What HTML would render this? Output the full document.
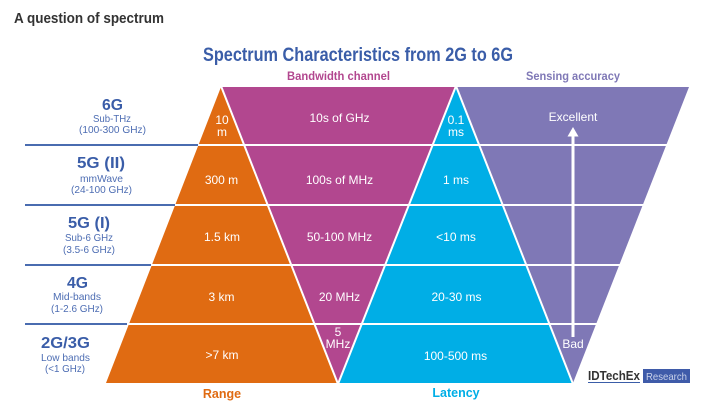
<!DOCTYPE html>
<html><head><meta charset="utf-8"><style>
html,body{margin:0;padding:0;background:#fff;width:702px;height:409px;overflow:hidden}
svg{display:block}
text{font-family:"Liberation Sans",sans-serif}
</style></head><body>
<svg width="702" height="409" viewBox="0 0 702 409" xmlns="http://www.w3.org/2000/svg">
<rect width="702" height="409" fill="#fff"/>
<text x="14" y="23" font-size="14.5" font-weight="bold" fill="#333" textLength="150" lengthAdjust="spacingAndGlyphs">A question of spectrum</text>
<text x="203" y="61" font-size="19" font-weight="bold" fill="#3a5da8" textLength="310" lengthAdjust="spacingAndGlyphs">Spectrum Characteristics from 2G to 6G</text>
<text x="287" y="80" font-size="12" font-weight="bold" fill="#b2478f" textLength="103" lengthAdjust="spacingAndGlyphs">Bandwidth channel</text>
<text x="526" y="80" font-size="12" font-weight="bold" fill="#7f78b6" textLength="94" lengthAdjust="spacingAndGlyphs">Sensing accuracy</text>

<!-- shapes -->
<polygon points="221,87 106,383 338,383" fill="#e06b12"/>
<polygon points="222,87 456,87 338,383" fill="#b2478f"/>
<polygon points="456,87 338,383 573,383" fill="#00aee6"/>
<polygon points="456,87 689,87 573,383" fill="#7f78b6"/>
<g stroke="#fff" stroke-width="2">
<line x1="221" y1="86" x2="338" y2="384"/>
<line x1="456" y1="86" x2="338" y2="384"/>
<line x1="456" y1="86" x2="573" y2="384"/>
<line x1="100" y1="145" x2="695" y2="145"/>
<line x1="100" y1="205" x2="695" y2="205"/>
<line x1="100" y1="265" x2="695" y2="265"/>
<line x1="100" y1="324" x2="695" y2="324"/>
</g>
<g stroke="#4a6cb0" stroke-width="2">
<line x1="25" y1="145" x2="198" y2="145"/>
<line x1="25" y1="205" x2="175" y2="205"/>
<line x1="25" y1="265" x2="151" y2="265"/>
<line x1="25" y1="324" x2="127" y2="324"/>
</g>

<!-- left labels -->
<g font-weight="bold" fill="#3a5da8" font-size="15.5">
<text x="102" y="110" textLength="21" lengthAdjust="spacingAndGlyphs">6G</text>
<text x="77" y="168" textLength="48" lengthAdjust="spacingAndGlyphs">5G (II)</text>
<text x="68" y="228" textLength="42" lengthAdjust="spacingAndGlyphs">5G (I)</text>
<text x="67" y="288" textLength="21" lengthAdjust="spacingAndGlyphs">4G</text>
<text x="41" y="348" textLength="49" lengthAdjust="spacingAndGlyphs">2G/3G</text>
</g>
<g fill="#4d6db3" font-size="10.5">
<text x="93" y="122" textLength="38" lengthAdjust="spacingAndGlyphs">Sub-THz</text>
<text x="79" y="133" textLength="67" lengthAdjust="spacingAndGlyphs">(100-300 GHz)</text>
<text x="80" y="182" textLength="43" lengthAdjust="spacingAndGlyphs">mmWave</text>
<text x="71" y="193" textLength="61" lengthAdjust="spacingAndGlyphs">(24-100 GHz)</text>
<text x="65" y="241" textLength="48" lengthAdjust="spacingAndGlyphs">Sub-6 GHz</text>
<text x="63" y="253" textLength="52" lengthAdjust="spacingAndGlyphs">(3.5-6 GHz)</text>
<text x="53" y="300" textLength="48" lengthAdjust="spacingAndGlyphs">Mid-bands</text>
<text x="51" y="312" textLength="52" lengthAdjust="spacingAndGlyphs">(1-2.6 GHz)</text>
<text x="41" y="361" textLength="49" lengthAdjust="spacingAndGlyphs">Low bands</text>
<text x="45" y="372" textLength="40" lengthAdjust="spacingAndGlyphs">(&lt;1 GHz)</text>
</g>

<!-- inner values -->
<g fill="#fff" font-size="12" text-anchor="middle">
<text x="222" y="124">10</text>
<text x="222" y="136">m</text>
<text x="221.5" y="184">300 m</text>
<text x="222" y="241">1.5 km</text>
<text x="221.5" y="301">3 km</text>
<text x="222" y="359">&gt;7 km</text>

<text x="339.5" y="122">10s of GHz</text>
<text x="339.5" y="184">100s of MHz</text>
<text x="339.5" y="241">50-100 MHz</text>
<text x="339.5" y="301">20 MHz</text>
<text x="338" y="336">5</text>
<text x="338" y="348">MHz</text>

<text x="456" y="124">0.1</text>
<text x="456" y="136">ms</text>
<text x="456" y="184">1 ms</text>
<text x="456" y="241">&lt;10 ms</text>
<text x="456.5" y="301">20-30 ms</text>
<text x="455.5" y="360">100-500 ms</text>

<text x="573" y="121">Excellent</text>
<text x="573" y="348">Bad</text>
</g>
<rect x="571.5" y="134" width="3" height="203" fill="#fff"/>
<polygon points="573,127 567.5,136.5 578.5,136.5" fill="#fff"/>

<text x="222" y="398" font-size="12.5" font-weight="bold" fill="#e06b12" text-anchor="middle">Range</text>
<text x="456" y="397" font-size="12.5" font-weight="bold" fill="#00aee6" text-anchor="middle">Latency</text>

<!-- logo -->
<text x="588" y="380" font-size="12.5" font-weight="bold" fill="#333" textLength="52" lengthAdjust="spacingAndGlyphs">IDTechEx</text>
<line x1="588" y1="382.5" x2="640" y2="382.5" stroke="#3a5da8" stroke-width="1"/>
<rect x="643" y="369" width="47" height="14" fill="#3f5ba9"/>
<text x="646" y="380" font-size="10.5" fill="#c8d1ea" textLength="41" lengthAdjust="spacingAndGlyphs">Research</text>
</svg>
</body></html>
